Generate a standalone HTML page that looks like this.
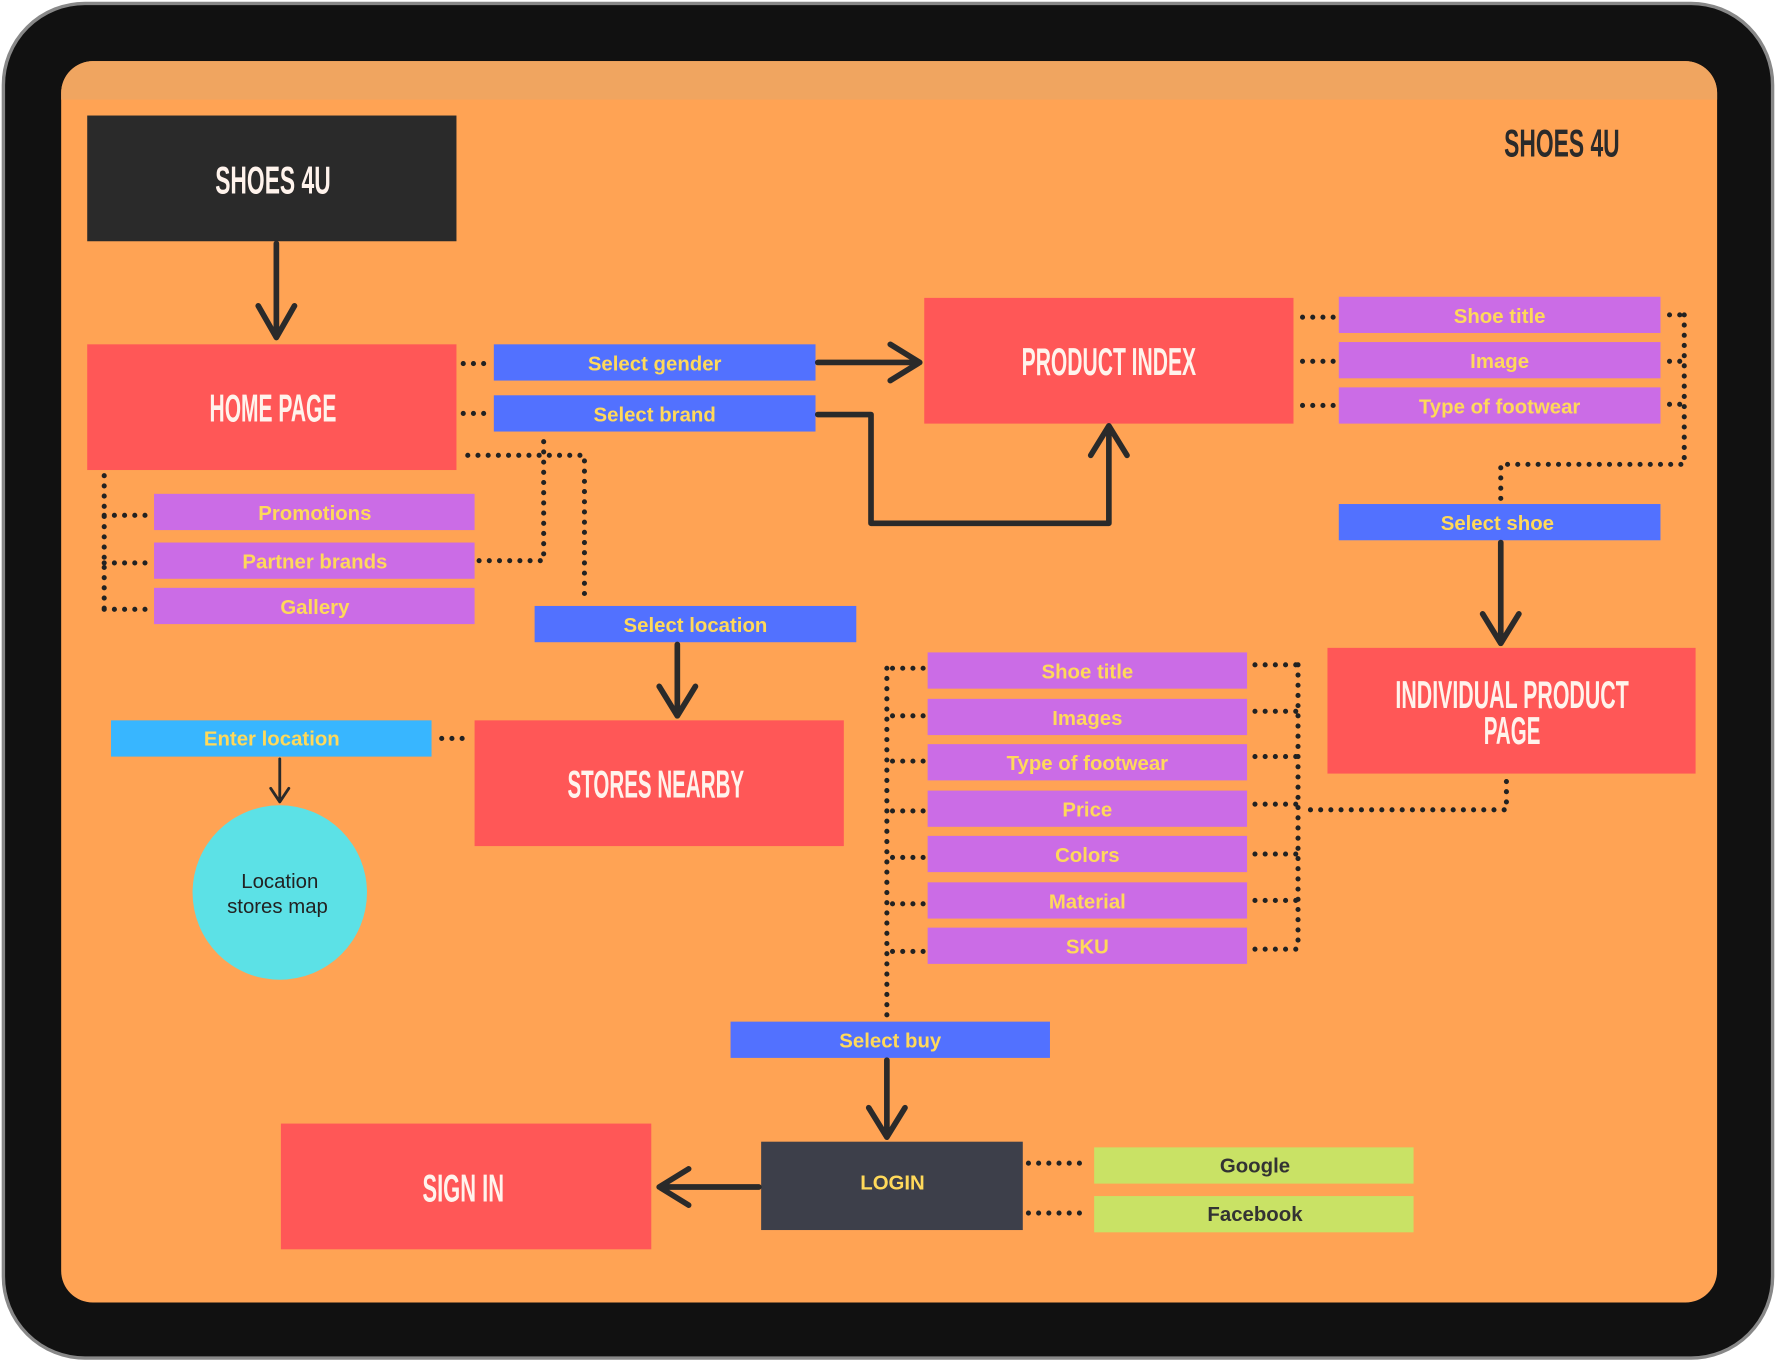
<!DOCTYPE html>
<html><head><meta charset="utf-8"><style>
html,body{margin:0;padding:0;background:#fff;width:1776px;height:1362px;overflow:hidden}
svg{display:block}
.t{font-family:"Liberation Sans",sans-serif;font-weight:bold;font-size:18px;fill:#FFD95A;text-anchor:middle}
.h{font-family:"Liberation Sans",sans-serif;font-weight:bold;fill:#FFF3EC;text-anchor:middle}
.d{stroke:#222;stroke-width:4.5;stroke-linecap:round;stroke-dasharray:0 9;fill:none}
.a{stroke:#2a2a2a;stroke-width:5;fill:none;stroke-linecap:round;stroke-linejoin:round}
</style></head><body>
<svg width="1776" height="1362" viewBox="0 0 1568 1202.5" preserveAspectRatio="none">
<rect x="3" y="3" width="1562" height="1196" rx="72" fill="#111" stroke="#888" stroke-width="3"/>
<rect x="54" y="54" width="1462" height="1096" rx="28" fill="#FFA354"/>
<path d="M82 54 H1488 A28 28 0 0 1 1516 82 V88 H54 V82 A28 28 0 0 1 82 54Z" fill="#F0A560"/>

<rect x="77" y="102" width="326" height="111" fill="#2a2a2a"/>
<text class="h" x="241" y="171" font-size="34" textLength="102" lengthAdjust="spacingAndGlyphs">SHOES 4U</text>
<text class="h" x="1379" y="138" font-size="34" fill="#2a2a2a" style="fill:#2a2a2a" textLength="102" lengthAdjust="spacingAndGlyphs">SHOES 4U</text>

<path class="a" d="M244 215 V298 M228 270 L244 298 L260 270"/>

<rect x="77" y="304" width="326" height="111" fill="#FF5757"/>
<text class="h" x="241" y="372" font-size="34" textLength="112" lengthAdjust="spacingAndGlyphs">HOME PAGE</text>

<rect x="436" y="304" width="284" height="32" fill="#5271FF"/>
<text class="t" x="578" y="327">Select gender</text>
<rect x="436" y="349" width="284" height="32" fill="#5271FF"/>
<text class="t" x="578" y="372">Select brand</text>
<path class="d" d="M409 321 H434 M409 365 H434"/>
<path class="a" d="M722 320 H812 M786 304 L812 320 L786 336"/>

<rect x="816" y="263" width="326" height="111" fill="#FF5757"/>
<text class="h" x="979" y="331" font-size="34" textLength="154" lengthAdjust="spacingAndGlyphs">PRODUCT INDEX</text>
<path class="a" d="M722 366 H769 V462 H979 V378 M963 402 L979 376 L995 402"/>

<rect x="1182" y="262" width="284" height="32" fill="#CB6CE6"/>
<text class="t" x="1324" y="285">Shoe title</text>
<rect x="1182" y="302" width="284" height="32" fill="#CB6CE6"/>
<text class="t" x="1324" y="325">Image</text>
<rect x="1182" y="342" width="284" height="32" fill="#CB6CE6"/>
<text class="t" x="1324" y="365">Type of footwear</text>
<path class="d" d="M1150 280 H1178 M1150 319 H1178 M1150 358 H1178"/>
<path class="d" d="M1474 278 H1487 M1474 319 H1487 M1474 357 H1487 M1487 278 V410 H1325 V442"/>

<rect x="1182" y="445" width="284" height="32" fill="#5271FF"/>
<text class="t" x="1322" y="468">Select shoe</text>
<path class="a" d="M1325 479 V568 M1309 542 L1325 568 L1341 542"/>

<rect x="1172" y="572" width="325" height="111" fill="#FF5757"/>
<text class="h" x="1335" y="625" font-size="34" textLength="206" lengthAdjust="spacingAndGlyphs">INDIVIDUAL PRODUCT</text>
<text class="h" x="1335" y="657" font-size="34" textLength="50" lengthAdjust="spacingAndGlyphs">PAGE</text>
<path class="d" d="M1330 690 V715 H1150"/>

<g>
<rect x="819" y="576" width="282" height="32" fill="#CB6CE6"/><text class="t" x="960" y="599">Shoe title</text>
<rect x="819" y="617" width="282" height="32" fill="#CB6CE6"/><text class="t" x="960" y="640">Images</text>
<rect x="819" y="657" width="282" height="32" fill="#CB6CE6"/><text class="t" x="960" y="680">Type of footwear</text>
<rect x="819" y="698" width="282" height="32" fill="#CB6CE6"/><text class="t" x="960" y="721">Price</text>
<rect x="819" y="738" width="282" height="32" fill="#CB6CE6"/><text class="t" x="960" y="761">Colors</text>
<rect x="819" y="779" width="282" height="32" fill="#CB6CE6"/><text class="t" x="960" y="802">Material</text>
<rect x="819" y="819" width="282" height="32" fill="#CB6CE6"/><text class="t" x="960" y="842">SKU</text>
</g>
<path class="d" d="M1108 587 H1146 M1108 628 H1146 M1108 668 H1146 M1108 710 H1146 M1108 754 H1146 M1108 795 H1146 M1108 838 H1146 M1146 587 V838"/>
<path class="d" d="M815 590 H783 M815 632 H783 M815 672 H783 M815 716 H783 M815 757 H783 M815 798 H783 M815 840 H783 M783 590 V898"/>

<rect x="645" y="902" width="282" height="32" fill="#5271FF"/>
<text class="t" x="786" y="925">Select buy</text>
<path class="a" d="M783 936 V1004 M767 978 L783 1004 L799 978"/>

<rect x="672" y="1008" width="231" height="78" fill="#3D3F4A"/>
<text class="t" x="788" y="1050" font-size="16">LOGIN</text>
<path class="a" d="M670 1048 H582 M608 1032 L582 1048 L608 1064"/>

<rect x="248" y="992" width="327" height="111" fill="#FF5757"/>
<text class="h" x="409" y="1061" font-size="34" textLength="72" lengthAdjust="spacingAndGlyphs">SIGN IN</text>

<rect x="966" y="1013" width="282" height="32" fill="#C9E265"/>
<text class="t" x="1108" y="1035" style="fill:#333" font-size="17">Google</text>
<rect x="966" y="1056" width="282" height="32" fill="#C9E265"/>
<text class="t" x="1108" y="1078" style="fill:#333" font-size="17">Facebook</text>
<path class="d" d="M908 1027 H962 M908 1071 H962"/>

<path class="d" d="M92 420 V538 M92 455 H133 M92 497 H133 M92 538 H133"/>
<rect x="136" y="436" width="283" height="32" fill="#CB6CE6"/><text class="t" x="278" y="459">Promotions</text>
<rect x="136" y="479" width="283" height="32" fill="#CB6CE6"/><text class="t" x="278" y="502">Partner brands</text>
<rect x="136" y="519" width="283" height="32" fill="#CB6CE6"/><text class="t" x="278" y="542">Gallery</text>
<path class="d" d="M423 495 H480 V388"/>
<path class="d" d="M413 402 H516 V532"/>

<rect x="472" y="535" width="284" height="32" fill="#5271FF"/>
<text class="t" x="614" y="558">Select location</text>
<path class="a" d="M598 569 V632 M582 606 L598 632 L614 606"/>

<rect x="419" y="636" width="326" height="111" fill="#FF5757"/>
<text class="h" x="579" y="704" font-size="34" textLength="156" lengthAdjust="spacingAndGlyphs">STORES NEARBY</text>

<rect x="98" y="636" width="283" height="32" fill="#38B6FF"/>
<text class="t" x="240" y="658">Enter location</text>
<path class="d" d="M390 652 H416"/>
<path class="a" style="stroke-width:2.5" d="M247 670 V708 M239 696 L247 708 L255 696"/>
<circle cx="247" cy="788" r="77" fill="#5CE1E6"/>
<text x="247" y="784" font-family="Liberation Sans,sans-serif" font-size="18" fill="#222" text-anchor="middle">Location</text>
<text x="245" y="806" font-family="Liberation Sans,sans-serif" font-size="18" fill="#222" text-anchor="middle">stores map</text>
</svg>
</body></html>
